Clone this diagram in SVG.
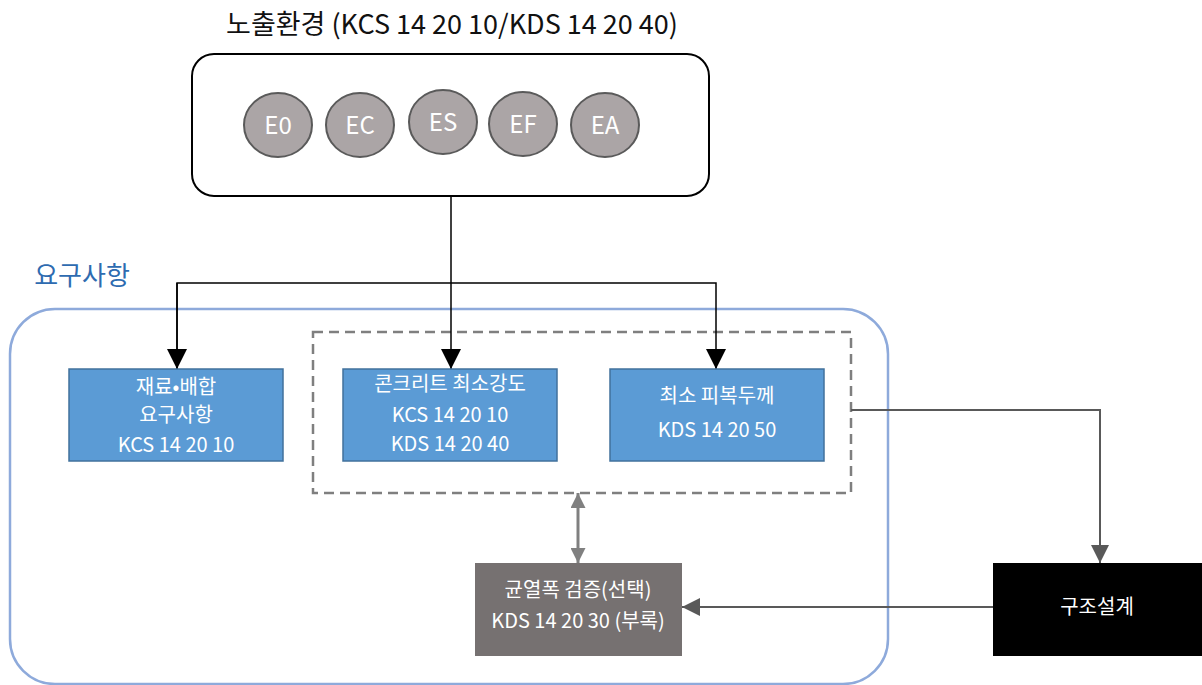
<svg xmlns="http://www.w3.org/2000/svg" width="1202" height="685" viewBox="0 0 1202 685">
<style>
text { font-family: "Noto Sans CJK KR", "Noto Sans", sans-serif; text-anchor: middle; }
.circ { fill: #aba5a6; stroke: #5a5a5a; stroke-width: 2; }
.ct { fill: #ffffff; font-size: 24px; }
.blue { fill: #5b9bd5; stroke: #41719c; stroke-width: 1.5; }
.wt { fill: #ffffff; font-size: 20px; }
.blk { fill: none; stroke: #000000; stroke-width: 1.5; }
.gry { fill: none; stroke: #595959; stroke-width: 2; }
</style>
<defs>
<marker id="ab" viewBox="0 0 10 10" refX="10" refY="5" markerWidth="21" markerHeight="20" markerUnits="userSpaceOnUse" orient="auto"><path d="M0,0 L10,5 L0,10 z" fill="#000"/></marker>
<marker id="ag" viewBox="0 0 10 10" refX="10" refY="5" markerWidth="10" markerHeight="9" markerUnits="strokeWidth" orient="auto"><path d="M0,0 L10,5 L0,10 z" fill="#595959"/></marker>
<marker id="ad" viewBox="0 0 10 10" refX="10" refY="5" markerWidth="6.5" markerHeight="5" markerUnits="strokeWidth" orient="auto-start-reverse"><path d="M0,0 L10,5 L0,10 z" fill="#808080"/></marker>
</defs>
<rect width="1202" height="685" fill="#ffffff"/>

<g id="title"><text x="452" y="34" font-size="27" fill="#111">노출환경 (KCS 14 20 10/KDS 14 20 40)</text></g>

<g id="exposure">
<rect x="192" y="54" width="517" height="142" rx="22" fill="#fff" stroke="#000" stroke-width="2"/>
<ellipse class="circ" cx="278" cy="125" rx="34" ry="32"/><text class="ct" x="278" y="134">E0</text>
<ellipse class="circ" cx="360" cy="125" rx="34" ry="32"/><text class="ct" x="360" y="134">EC</text>
<ellipse class="circ" cx="443" cy="122" rx="34" ry="32"/><text class="ct" x="443" y="131">ES</text>
<ellipse class="circ" cx="523" cy="124" rx="34" ry="32"/><text class="ct" x="523" y="133">EF</text>
<ellipse class="circ" cx="605" cy="125" rx="34" ry="32"/><text class="ct" x="605" y="134">EA</text>
</g>

<g id="requirements">
<text x="82" y="285" font-size="26" fill="#2e6bb0">요구사항</text>
<rect x="10" y="309" width="878" height="375" rx="45" fill="none" stroke="#8eaadb" stroke-width="2.5"/>
</g>

<g id="dashed-group"><rect x="313" y="332" width="538" height="161" fill="none" stroke="#7f7f7f" stroke-width="2.5" stroke-dasharray="10 6"/></g>

<g id="connectors">
<line class="blk" x1="451" y1="196" x2="451" y2="369" marker-end="url(#ab)"/>
<polyline class="blk" points="177,369 177,283 716,283 716,369" marker-end="url(#ab)"/>
<path class="blk" d="M177,283 L177,369" marker-end="url(#ab)"/>
<polyline class="gry" points="851,410 1100,410 1100,563" marker-end="url(#ag)"/>
<line class="gry" x1="993" y1="607" x2="682" y2="607" marker-end="url(#ag)"/>
<line x1="578" y1="493" x2="578" y2="563" stroke="#808080" stroke-width="3" marker-start="url(#ad)" marker-end="url(#ad)"/>
</g>

<g id="material">
<rect class="blue" x="69" y="369" width="214" height="92"/>
<text class="wt" x="176" y="394">재료•배합</text>
<text class="wt" x="176" y="422">요구사항</text>
<text class="wt" x="176" y="452">KCS 14 20 10</text>
</g>
<g id="strength">
<rect class="blue" x="343" y="369" width="214" height="92"/>
<text class="wt" x="450" y="391">콘크리트 최소강도</text>
<text class="wt" x="450" y="422">KCS 14 20 10</text>
<text class="wt" x="450" y="451">KDS 14 20 40</text>
</g>
<g id="cover">
<rect class="blue" x="610" y="369" width="214" height="92"/>
<text class="wt" x="717" y="403">최소 피복두께</text>
<text class="wt" x="717" y="437">KDS 14 20 50</text>
</g>
<g id="crack">
<rect x="475" y="563" width="207" height="93" fill="#767171"/>
<text class="wt" x="578" y="597">균열폭 검증(선택)</text>
<text class="wt" x="578" y="628">KDS 14 20 30 (부록)</text>
</g>
<g id="design">
<rect x="993" y="563" width="209" height="93" fill="#000"/>
<text class="wt" x="1097" y="614">구조설계</text>
</g>
</svg>
